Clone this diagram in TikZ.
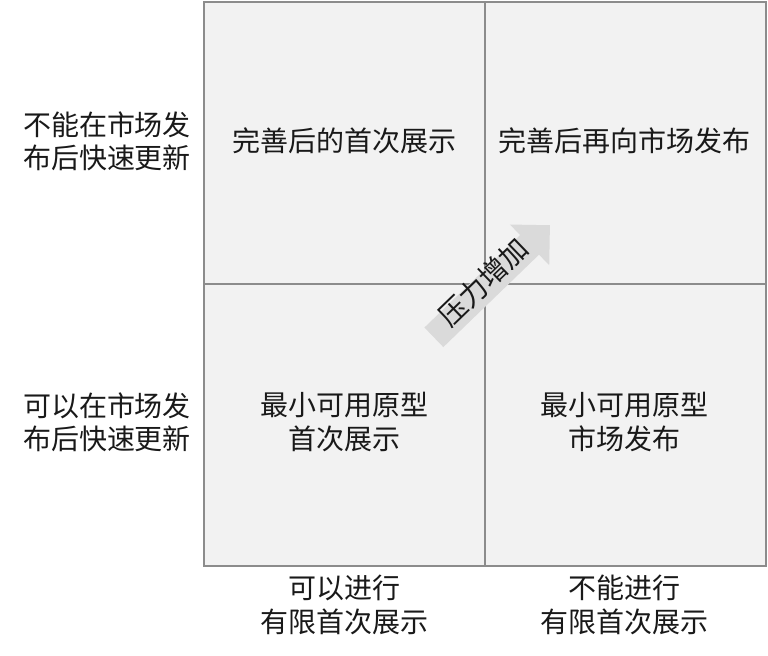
\documentclass[tikz,border=0pt]{standalone}
\usepackage{fontspec}
\setmainfont{Noto Sans CJK SC}
\usetikzlibrary{shapes.arrows}
\definecolor{cellfill}{HTML}{F2F2F2}
\definecolor{cellline}{HTML}{8C8C8C}
\definecolor{arrowfill}{HTML}{DADADA}
\tikzset{
  cell/.style={draw=cellline, fill=cellfill, line width=1.3pt},
  txt/.style={align=center, font=\fontsize{21}{25}\selectfont, text=black!90, inner sep=0pt},
}
\begin{document}
\begin{tikzpicture}[x=0.75pt, y=-0.75pt]
  \useasboundingbox (0,0) rectangle (768,656);
  % quadrants
  \foreach \x/\y in {204/2, 485/2, 204/284, 485/284}
    \draw[cell] (\x,\y) rectangle ++(281,282);
  % pressure arrow
  \node (push) [txt, single arrow, fill=arrowfill, rotate=44, minimum height=121pt,
    text height=14pt, text depth=6pt, single arrow head extend=11pt,
    single arrow head indent=0pt] at (487,286) {压力增加};
  % cell texts
  \node (tl) [txt] at (344.5,141) {完善后的首次展示};
  \node (tr) [txt] at (624.5,141) {完善后再向市场发布};
  \node (bl) [txt] at (344.5,422) {最小可用原型\\首次展示};
  \node (br) [txt] at (624.5,422) {最小可用原型\\市场发布};
  % row labels
  \node (rowtop) [txt] at (107,141) {不能在市场发\\布后快速更新};
  \node (rowbot) [txt] at (107,422) {可以在市场发\\布后快速更新};
  % column labels
  \node (colleft) [txt] at (344.5,605) {可以进行\\有限首次展示};
  \node (colright) [txt] at (624.5,605) {不能进行\\有限首次展示};
\end{tikzpicture}
\end{document}
